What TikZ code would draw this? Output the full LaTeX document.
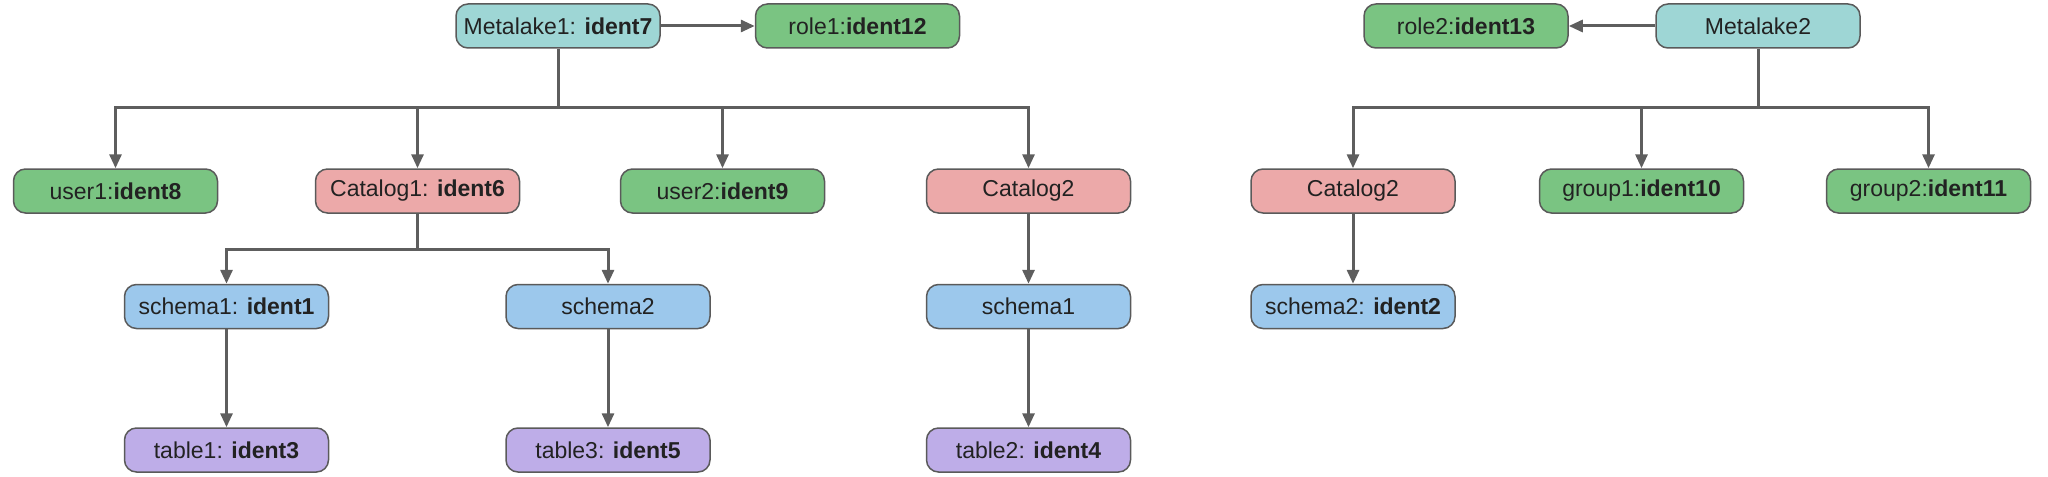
\documentclass[tikz,border=0pt]{standalone}
\usepackage{fontspec}
\setmainfont{Liberation Sans}
\usetikzlibrary{arrows.meta}
\definecolor{cMeta}{HTML}{9ED6D5}
\definecolor{cGreen}{HTML}{7AC482}
\definecolor{cPink}{HTML}{ECA9A9}
\definecolor{cBlue}{HTML}{9CC8EC}
\definecolor{cPurple}{HTML}{BEADE8}
\definecolor{cBorder}{HTML}{5A5A5A}
\definecolor{cLine}{HTML}{5E5E5E}
\definecolor{cText}{HTML}{222222}
\tikzset{
  box/.style={draw=cBorder, line width=0.75pt, rounded corners=6pt,
    minimum width=102pt, minimum height=22pt, inner sep=0pt,
    text=cText, font=\fontsize{11.5}{13}\selectfont},
  metabox/.style={box, fill=cMeta},
  greenbox/.style={box, fill=cGreen},
  pinkbox/.style={box, fill=cPink},
  bluebox/.style={box, fill=cBlue},
  purplebox/.style={box, fill=cPurple},
  conn/.style={draw=cLine, line width=1.5pt},
  arr/.style={conn, -{Triangle[length=7pt,width=6pt]}},
}
\begin{document}
\begin{tikzpicture}[x=0.5pt, y=-0.5pt]
\useasboundingbox (0,0) rectangle (2048,476);
% row 1
\node[metabox] (m1) at (558,26) {Metalake1: \textbf{ident7}};
\node[greenbox] (r1) at (857.5,26) {role1:\textbf{ident12}};
\node[greenbox] (r2) at (1466,26) {role2:\textbf{ident13}};
\node[metabox] (m2) at (1758,26) {Metalake2};
% row 2
\node[greenbox] (u1) at (115.5,191) {user1:\textbf{ident8}};
\node[pinkbox] (c1) at (417.5,191) {Catalog1: \textbf{ident6}};
\node[greenbox] (u2) at (722.5,191) {user2:\textbf{ident9}};
\node[pinkbox] (c2) at (1028.5,191) {Catalog2};
\node[pinkbox] (c2b) at (1353,191) {Catalog2};
\node[greenbox] (g1) at (1641.5,191) {group1:\textbf{ident10}};
\node[greenbox] (g2) at (1928.5,191) {group2:\textbf{ident11}};
% row 3
\node[bluebox] (s1) at (226.5,306.5) {schema1: \textbf{ident1}};
\node[bluebox] (s2) at (608,306.5) {schema2};
\node[bluebox] (s1b) at (1028.5,306.5) {schema1};
\node[bluebox] (s2b) at (1353,306.5) {schema2: \textbf{ident2}};
% row 4
\node[purplebox] (t1) at (226.5,450) {table1: \textbf{ident3}};
\node[purplebox] (t3) at (608,450) {table3: \textbf{ident5}};
\node[purplebox] (t2) at (1028.5,450) {table2: \textbf{ident4}};
% bus points
\coordinate (b1) at (558,108);
\coordinate (b2) at (1758,108);
\coordinate (b3) at (417.5,249);
% connectors
\draw[arr] (m1) -- (r1);
\draw[arr] (m2) -- (r2);
\draw[conn] (m1.south) -- (b1);
\draw[arr] (b1) -| (u1.north);
\draw[arr] (b1) -| (c1.north);
\draw[arr] (b1) -| (u2.north);
\draw[arr] (b1) -| (c2.north);
\draw[conn] (m2.south) -- (b2);
\draw[arr] (b2) -| (c2b.north);
\draw[arr] (b2) -| (g1.north);
\draw[arr] (b2) -| (g2.north);
\draw[conn] (c1.south) -- (b3);
\draw[arr] (b3) -| (s1.north);
\draw[arr] (b3) -| (s2.north);
\draw[arr] (s1) -- (t1);
\draw[arr] (s2) -- (t3);
\draw[arr] (c2) -- (s1b);
\draw[arr] (s1b) -- (t2);
\draw[arr] (c2b) -- (s2b);
\end{tikzpicture}
\end{document}
